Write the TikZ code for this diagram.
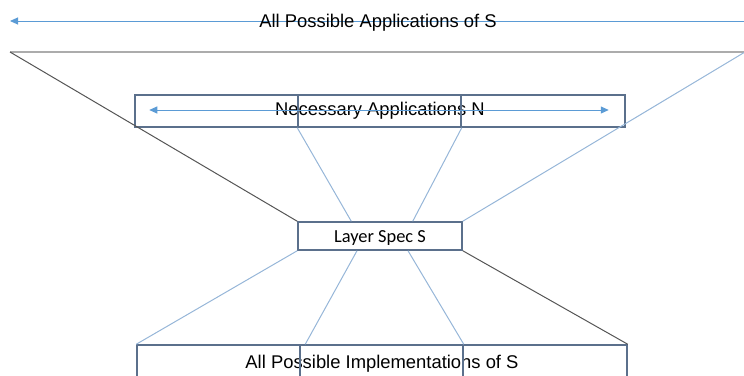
\documentclass[tikz,border=0pt]{standalone}
\usepackage{fontspec}
\setmainfont{Liberation Sans}
\newfontfamily\calibrifont{Carlito}
\usepackage{tikz}
\usetikzlibrary{arrows.meta}
\definecolor{box-line}{RGB}{91,112,140}
\definecolor{arrow-blue}{RGB}{91,155,213}
\definecolor{pale-blue}{RGB}{150,182,216}
\definecolor{dark-line}{RGB}{85,85,85}
\definecolor{rule-gray}{RGB}{172,172,172}

\begin{document}
\begin{tikzpicture}[x=0.5pt, y=-0.5pt,
            plain-box/.style={draw=box-line, line width=0.75pt, inner sep=0pt, minimum height=16pt,
                              font=\fontsize{9.2}{11}\selectfont},
            blue-arrow/.style={arrow-blue, line width=0.5pt},
            pale-link/.style={pale-blue, line width=0.5pt},
            dark-link/.style={dark-line, line width=0.5pt}]
            \useasboundingbox (0,0) rectangle (744,375);
            \clip (0,0) rectangle (744,375);
            % top: all applications
            \coordinate (top-arrow-start) at (748,21);
            \coordinate (top-arrow-end) at (10,21);
            \draw [blue-arrow, arrows={-Triangle[length=4pt, width=3.5pt]}] (top-arrow-start) -- (top-arrow-end);
            \node [font=\fontsize{9.2}{11}\selectfont] (all-apps) at (378,23) {All Possible Applications of S};
            \coordinate (fan-left) at (10,52);
            \coordinate (fan-right) at (745,52);
            \draw [rule-gray, line width=1pt] (fan-left) -- (fan-right);
            % necessary applications
            \node [plain-box, minimum width=245pt] (nec-apps) at (380,111) {Necessary Applications N};
            \node [plain-box, minimum width=81.5pt] (nec-mid) at (379.5,111) {};
            \draw [blue-arrow, arrows={Triangle[length=4pt, width=3.5pt]-Triangle[length=4pt, width=3.5pt]}]
                  ([xshift=7.5pt, yshift=0.5pt]nec-apps.west) -- ([xshift=-8.5pt, yshift=0.5pt]nec-apps.east);
            % layer spec
            \node [plain-box, minimum width=82pt, minimum height=14pt, text height=8pt, text depth=1.9pt,
                   font=\calibrifont\fontsize{9.2}{11}\selectfont] (layer-spec) at (380,236) {Layer Spec S};
            \draw [dark-link] (fan-left) -- (layer-spec.north west);
            \draw [pale-link] (fan-right) -- (layer-spec.north east);
            \draw [pale-link] (nec-mid.south west) -- ([xshift=27pt]layer-spec.north west);
            \draw [pale-link] (nec-mid.south east) -- ([xshift=-25pt]layer-spec.north east);
            % implementations
            \node [plain-box, minimum width=245pt, minimum height=18.5pt] (all-impls) at (382,363.5) {All Possible Implementations of S};
            \node [plain-box, minimum width=81.5pt, minimum height=18.5pt] (impl-mid) at (381.5,363.5) {};
            \draw [pale-link] (layer-spec.south west) -- (all-impls.north west);
            \draw [pale-link] ([xshift=-11.5pt]layer-spec.south) -- ([xshift=3pt]impl-mid.north west);
            \draw [pale-link] ([xshift=14pt]layer-spec.south) -- (impl-mid.north east);
            \draw [dark-link] (layer-spec.south east) -- (all-impls.north east);
         \end{tikzpicture}
\end{document}
